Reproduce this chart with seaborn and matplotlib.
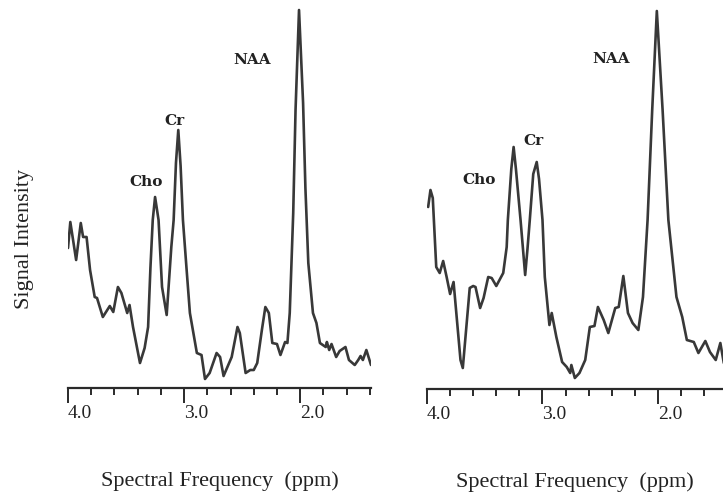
import matplotlib
matplotlib.use("Agg")
import matplotlib.pyplot as plt
from matplotlib.ticker import FixedLocator, MultipleLocator
import pandas as pd
import seaborn as sns

# left spectrum (ppm, signal height)
ppm_a = [4.00, 3.98, 3.93, 3.89, 3.87, 3.84, 3.81, 3.77, 3.75, 3.70, 3.64, 3.61,
         3.57, 3.54, 3.49, 3.47, 3.44, 3.38, 3.34, 3.31, 3.29, 3.27, 3.25, 3.22,
         3.19, 3.15, 3.11, 3.09, 3.07, 3.05, 3.03, 3.01, 2.98, 2.95, 2.89, 2.85,
         2.82, 2.78, 2.72, 2.69, 2.66, 2.59, 2.54, 2.52, 2.47, 2.43, 2.40, 2.37,
         2.33, 2.30, 2.27, 2.24, 2.20, 2.17, 2.13, 2.11, 2.09, 2.06, 2.04, 2.01,
         1.975, 1.955, 1.93, 1.89, 1.86, 1.83, 1.78, 1.77, 1.75, 1.73, 1.69, 1.66,
         1.61, 1.58, 1.53, 1.50, 1.48, 1.46, 1.43, 1.39]
sig_a = [140, 166, 128, 165, 151, 151, 118, 91, 90, 71, 82, 76,
         101, 95, 75, 83, 61, 25, 40, 61, 120, 168, 191, 168,
         101, 73, 141, 168, 225, 258, 222, 168, 121, 75, 35, 33,
         9, 15, 35, 31, 12, 31, 61, 55, 15, 18, 18, 25,
         58, 81, 75, 45, 44, 33, 46, 45, 75, 175, 278, 378,
         285, 200, 125, 75, 65, 45, 41, 46, 38, 44, 31, 37,
         41, 28, 23, 28, 32, 28, 38, 23]

# right spectrum
ppm_b = [3.99, 3.97, 3.95, 3.92, 3.89, 3.86, 3.83, 3.80, 3.77, 3.71, 3.69, 3.63,
         3.60, 3.58, 3.54, 3.51, 3.47, 3.44, 3.40, 3.34, 3.31, 3.30, 3.27, 3.25,
         3.23, 3.19, 3.15, 3.13, 3.11, 3.08, 3.05, 3.03, 3.00, 2.98, 2.94, 2.92,
         2.88, 2.83, 2.79, 2.76, 2.75, 2.72, 2.68, 2.63, 2.59, 2.55, 2.52, 2.47,
         2.43, 2.37, 2.34, 2.30, 2.26, 2.22, 2.17, 2.13, 2.09, 2.05, 2.01, 1.96,
         1.91, 1.84, 1.79, 1.75, 1.69, 1.65, 1.59, 1.55, 1.50, 1.46, 1.43]
sig_b = [182, 199, 191, 122, 116, 128, 112, 95, 107, 29, 21, 101,
         103, 102, 81, 91, 112, 111, 103, 116, 142, 169, 220, 242,
         220, 169, 114, 140, 169, 215, 227, 210, 169, 112, 64, 76,
         52, 27, 22, 16, 24, 11, 16, 29, 62, 63, 82, 69,
         56, 81, 82, 113, 76, 66, 59, 92, 169, 279, 378, 279,
         169, 92, 72, 49, 47, 36, 48, 37, 29, 46, 26]

peaks = ["Cho", "Cr", "NAA"]
peak_pos_a = [(3.33, 206), (3.08, 267), (2.41, 328)]
peak_pos_b = [(3.55, 209), (3.08, 248), (2.41, 330)]

sns.set_style("white")
plt.rcParams["font.family"] = ["Liberation Serif", "DejaVu Serif"]

W, H = 723, 497
fig = plt.figure(figsize=(W / 100, H / 100), dpi=100)

panels = [
    (ppm_a, sig_a, peak_pos_a, 68, 371, 388, (4.0, 1.39)),
    (ppm_b, sig_b, peak_pos_b, 427, 723, 389, (4.0, 1.437)),
]

line_col = "#383838"
for ppm, sig, pos, x0, x1, y0, xlim in panels:
    ax = fig.add_axes([x0 / W, (H - y0) / H, (x1 - x0) / W, y0 / H])
    df = pd.DataFrame({"ppm": ppm, "signal": sig})
    sns.lineplot(data=df, x="ppm", y="signal", ax=ax, color=line_col,
                 lw=1.9, sort=False, estimator=None)
    ax.set_xlim(*xlim)
    ax.set_ylim(0, y0)
    ax.set_yticks([])
    ax.set_ylabel("")
    for s in ["top", "left", "right"]:
        ax.spines[s].set_visible(False)
    ax.spines["bottom"].set_linewidth(1.6)
    ax.spines["bottom"].set_color("#2a2a2a")
    ax.xaxis.set_major_locator(FixedLocator([4.0, 3.0, 2.0]))
    ax.xaxis.set_minor_locator(MultipleLocator(0.2))
    ax.set_xticklabels(["4.0", "3.0", "2.0"])
    ax.tick_params(axis="x", which="major", bottom=True, direction="out",
                   length=11, width=1.4, color="#2a2a2a", labelsize=14, pad=1,
                   labelcolor="#222222")
    ax.tick_params(axis="x", which="minor", bottom=True, direction="out",
                   length=5, width=1.4, color="#2a2a2a")
    plt.setp(ax.get_xticklabels(), ha="left")
    ax.set_xlabel("Spectral Frequency  (ppm)", fontsize=16, labelpad=36,
                  color="#222222")
    for name, (px, py) in zip(peaks, pos):
        ax.text(px, py, name, ha="center", va="center", fontsize=11,
                fontweight="bold", family="DejaVu Serif", color="#222222")

fig.text(25 / W, 1 - 239 / H, "Signal Intensity", rotation=90, ha="center",
         va="center", fontsize=16, color="#222222")

fig.savefig("out.png", dpi=100)
